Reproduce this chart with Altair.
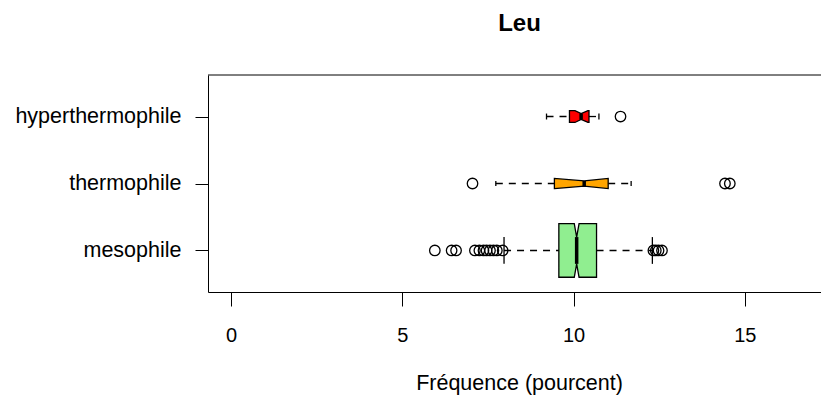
import altair as alt
import pandas as pd
import numpy as np

# Groups (bottom to top) and their five-number summaries of Leu frequency (%)
groups = ["mesophile", "thermophile", "hyperthermophile"]
counts = [224, 8, 11]
whisker_low = [7.97, 7.73, 9.21]
q1 = [9.57, 9.44, 9.88]
notch_low = [10.02, 9.44, 10.04]
median = [10.09, 10.31, 10.22]
notch_high = [10.16, 11.01, 10.42]
q3 = [10.67, 11.01, 10.45]
whisker_high = [12.30, 11.68, 10.74]
outliers = [
    [5.95, 6.44, 6.57, 7.12, 7.25, 7.37, 7.46, 7.56, 7.66, 7.76, 7.93,
     12.33, 12.40, 12.48, 12.58],
    [7.05, 14.42, 14.56],
    [11.37],
]
fills = ["#90EE90", "#FFA500", "#FF0000"]

x_ticks = [0, 5, 10, 15]
X_MIN, X_MAX = -0.671, 17.222
Y_MIN, Y_MAX = 0.38, 3.62
W, H = 613, 217

# varwidth: box half-height proportional to sqrt(n), widest = 0.4
n_max = max(counts)
half = [0.4 * np.sqrt(n / n_max) for n in counts]

box_rows, whisk_rows, staple_rows, med_rows, out_rows = [], [], [], [], []
for i, g in enumerate(groups):
    pos = i + 1
    h = half[i]
    for x, hh in [(q1[i], h), (notch_low[i], h), (median[i], h / 2),
                  (notch_high[i], h), (q3[i], h)]:
        box_rows.append({"group": g, "x": x, "lo": pos - hh, "hi": pos + hh})
    whisk_rows.append({"group": g, "x": whisker_low[i], "x2": q1[i], "y": pos})
    whisk_rows.append({"group": g, "x": q3[i], "x2": whisker_high[i], "y": pos})
    for x in (whisker_low[i], whisker_high[i]):
        staple_rows.append({"x": x, "lo": pos - h / 2, "hi": pos + h / 2})
    med_rows.append({"x": median[i], "lo": pos - h / 2, "hi": pos + h / 2})
    for v in outliers[i]:
        out_rows.append({"x": v, "y": pos})

box_df = pd.DataFrame(box_rows)
whisk_df = pd.DataFrame(whisk_rows)
staple_df = pd.DataFrame(staple_rows)
med_df = pd.DataFrame(med_rows)
out_df = pd.DataFrame(out_rows)

FONT = "Liberation Sans"
label_expr = "[" + ",".join("'%s'" % g for g in groups) + "][datum.value - 1]"

xscale = alt.Scale(domain=[X_MIN, X_MAX], nice=False, zero=False)
yscale = alt.Scale(domain=[Y_MIN, Y_MAX], nice=False, zero=False)

x_axis = alt.Axis(
    values=x_ticks, tickSize=14, labelPadding=19, labelFontSize=20,
    title="Fréquence (pourcent)", titleFontSize=21.5, titleFontWeight="normal",
    titleX=311, titleY=97, titleBaseline="alphabetic", titleAlign="center",
)
y_axis = alt.Axis(
    values=[1, 2, 3], labelExpr=label_expr, tickSize=13, labelPadding=14,
    labelFontSize=21.5, title=None,
)

whiskers = alt.Chart(whisk_df).mark_rule(
    color="black", strokeWidth=1.3, strokeDash=[7, 6]
).encode(
    x=alt.X("x:Q", scale=xscale, axis=x_axis),
    x2="x2:Q",
    y=alt.Y("y:Q", scale=yscale, axis=y_axis),
)

staples = alt.Chart(staple_df).mark_rule(color="black", strokeWidth=1.3).encode(
    x="x:Q", y="lo:Q", y2="hi:Q"
)

boxes = alt.Chart(box_df).mark_area(
    stroke="black", strokeWidth=1.3, opacity=1, interpolate="linear"
).encode(
    x="x:Q",
    y=alt.Y("lo:Q", stack=None),
    y2="hi:Q",
    fill=alt.Fill("group:N", scale=alt.Scale(domain=groups, range=fills), legend=None),
    detail="group:N",
)

medians = alt.Chart(med_df).mark_rule(color="black", strokeWidth=3.5).encode(
    x="x:Q", y="lo:Q", y2="hi:Q"
)

points = alt.Chart(out_df).mark_point(
    shape="circle", size=110, filled=False, color="black", strokeWidth=1.3, opacity=1
).encode(x="x:Q", y="y:Q")

top_edge = alt.Chart(pd.DataFrame({"k": [0]})).mark_rule(
    color="black", strokeWidth=1
).encode(x=alt.datum(X_MIN), x2=alt.datum(X_MAX), y=alt.datum(Y_MAX))

chart = alt.layer(
    whiskers, staples, boxes, medians, points, top_edge
).properties(
    width=W,
    height=H,
    autosize=alt.AutoSizeParams(type="none"),
    padding={"left": 208, "top": 75, "right": 0, "bottom": 109},
    title=alt.TitleParams(
        "Leu", fontSize=24, fontWeight="bold", font=FONT, anchor="middle",
        frame="group", dx=5, offset=20, baseline="alphabetic", color="black",
    ),
).configure_view(
    stroke=None
).configure_axis(
    grid=False, domainColor="black", domainWidth=1, tickColor="black",
    tickWidth=1, labelColor="black", titleColor="black", labelFont=FONT,
    titleFont=FONT,
)

chart.save("out.html", embed_options={"renderer": "svg", "actions": False})
